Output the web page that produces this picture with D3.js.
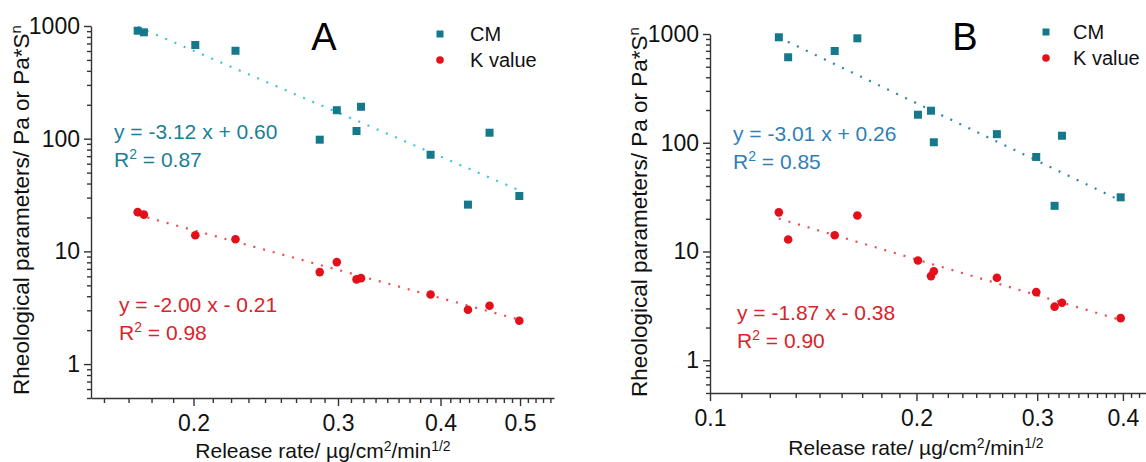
<!DOCTYPE html>
<html>
<head>
<meta charset="utf-8">
<script src="https://cdn.jsdelivr.net/npm/d3@7"></script>
<style>
    body { margin: 0; background: #fff; }
    svg { display: block; font-family: Arial, "Liberation Sans", sans-serif; }
</style>
</head>
<body>
<svg width="1146" height="462"></svg>
<script>
// panel A: release rate vs CM and K value
var rateA = [0.171, 0.174, 0.201, 0.225, 0.285, 0.299, 0.316, 0.320, 0.389, 0.432, 0.459, 0.499];
var cmA = [908, 879, 678, 603, 98, 179, 117, 192, 72, 26, 113, 31];
var kA = [22.3, 21.2, 13.9, 12.8, 6.55, 8.03, 5.64, 5.79, 4.15, 3.03, 3.29, 2.42];
var cmFitA = [-3.12, 0.60];   // slope, intercept (log-log)
var kFitA = [-2.00, -0.21];
var r2A = ['0.87', '0.98'];

// panel B
var rateB = [0.126, 0.130, 0.152, 0.164, 0.201, 0.210, 0.212, 0.262, 0.299, 0.318, 0.326, 0.397];
var cmB = [933, 611, 698, 913, 181, 197, 101, 120, 74, 26.3, 116, 31.5];
var kB = [22.9, 12.9, 14.1, 21.4, 8.27, 5.94, 6.59, 5.74, 4.23, 3.11, 3.38, 2.44];
var cmFitB = [-3.01, 0.26];
var kFitB = [-1.87, -0.38];
var r2B = ['0.85', '0.90'];

var yDomain = [0.5, 1000];
var yMajor = [1, 10, 100, 1000];
var xDomainA = [0.15, 0.55];
var xDomainB = [0.1, 0.45];
var xMajorA = [0.2, 0.3, 0.4, 0.5];
var xMajorB = [0.1, 0.2, 0.3, 0.4];
var seriesNames = ['CM', 'K value'];

var svg = d3.select('svg');

drawPanel({
    label: 'A', rate: rateA, cm: cmA, k: kA, cmFit: cmFitA, kFit: kFitA, r2: r2A,
    xDomain: xDomainA, xMajor: xMajorA,
    left: 91, right: 554, top: 26, bottom: 398,
    cmLine: '#3ec3e2', cmText: '#1a7f96',
    cmEq: [114, 139], kEq: [119, 312],
    labelPos: [324, 50], legend: [440, 470, 34],
    yTitle: [29, 210], xTitle: [323, 458]
});

drawPanel({
    label: 'B', rate: rateB, cm: cmB, k: kB, cmFit: cmFitB, kFit: kFitB, r2: r2B,
    xDomain: xDomainB, xMajor: xMajorB,
    left: 710, right: 1158, top: 34, bottom: 393,
    cmLine: '#2f86a6', cmText: '#2f7fb6',
    cmEq: [733, 141], kEq: [737, 320],
    labelPos: [965, 50], legend: [1046, 1073, 32],
    yTitle: [647, 212], xTitle: [916, 455]
});

function drawPanel(p) {
    var x = d3.scaleLog().domain(p.xDomain).range([p.left, p.right]);
    var y = d3.scaleLog().domain(yDomain).range([p.bottom, p.top]);

    var g = svg.append('g');

    // minor ticks
    var yMinor = [];
    [0.1, 1, 10, 100].forEach(function(d) {
        for (var i = 2; i <= 9; i++) {
            var v = d * i;
            if (v >= yDomain[0] && v <= yDomain[1]) yMinor.push(v);
        }
    });
    var xMinor = [];
    for (var i = 0; i < 60; i++) {
        var v = 0.1 + i * 0.1 / 9;
        if (i % 9 !== 0 && v > p.xDomain[0] && v < p.xDomain[1]) xMinor.push(v);
    }

    g.append('g')
        .attr('transform', 'translate(' + p.left + ',0)')
        .call(d3.axisLeft(y).tickValues(yMinor).tickSize(4).tickFormat(''))
        .call(function(a) { a.select('.domain').remove(); });

    g.append('g')
        .attr('transform', 'translate(0,' + p.bottom + ')')
        .call(d3.axisBottom(x).tickValues(xMinor).tickSize(5).tickFormat(''))
        .call(function(a) { a.select('.domain').remove(); });

    g.append('g')
        .attr('transform', 'translate(' + p.left + ',0)')
        .call(d3.axisLeft(y).tickValues(yMajor).tickSize(7).tickSizeOuter(0)
            .tickPadding(4).tickFormat(d3.format('d')));

    g.append('g')
        .attr('transform', 'translate(0,' + p.bottom + ')')
        .call(d3.axisBottom(x).tickValues(p.xMajor).tickSize(8).tickSizeOuter(0)
            .tickPadding(9).tickFormat(function(d) { return d; }));

    g.selectAll('.domain, .tick line')
        .attr('stroke', '#333')
        .attr('stroke-width', 1.4);
    g.selectAll('.tick text')
        .attr('font-size', 23)
        .attr('font-family', 'Arial, "Liberation Sans", sans-serif')
        .attr('fill', '#111');

    // fit lines
    var line = d3.line()
        .x(function(d) { return x(d[0]); })
        .y(function(d) { return y(d[1]); });
    var ext = d3.extent(p.rate);

    function fitLine(fit, color) {
        g.append('path')
            .datum(ext.map(function(r) { return [r, Math.pow(10, fit[1]) * Math.pow(r, fit[0])]; }))
            .attr('d', line)
            .attr('fill', 'none')
            .attr('stroke', color)
            .attr('stroke-width', 2.2)
            .attr('stroke-dasharray', '2,8');
    }
    fitLine(p.cmFit, p.cmLine);
    fitLine(p.kFit, '#f04a50');

    // markers
    g.append('g').selectAll('rect')
        .data(p.rate)
        .enter().append('rect')
        .attr('x', function(d) { return x(d) - 4; })
        .attr('y', function(d, i) { return y(p.cm[i]) - 4; })
        .attr('width', 8)
        .attr('height', 8)
        .attr('fill', '#16798b');

    g.append('g').selectAll('circle')
        .data(p.rate)
        .enter().append('circle')
        .attr('cx', function(d) { return x(d); })
        .attr('cy', function(d, i) { return y(p.k[i]); })
        .attr('r', 4.3)
        .attr('fill', '#e3101a');

    // equations
    function equation(fit, r2, pos, color) {
        var txt = 'y = ' + fit[0].toFixed(2) + ' x ' + (fit[1] < 0 ? '- ' : '+ ') + Math.abs(fit[1]).toFixed(2);
        var t = g.append('text')
            .attr('x', pos[0])
            .attr('y', pos[1])
            .attr('font-size', 21)
            .attr('fill', color);
        t.append('tspan').text(txt);
        t.append('tspan').attr('x', pos[0]).attr('dy', 28).text('R');
        t.append('tspan').attr('dy', -8).attr('font-size', 14).text('2');
        t.append('tspan').attr('dy', 8).text(' = ' + r2);
    }
    equation(p.cmFit, p.r2[0], p.cmEq, p.cmText);
    equation(p.kFit, p.r2[1], p.kEq, '#d9242a');

    // panel letter
    g.append('text')
        .attr('x', p.labelPos[0])
        .attr('y', p.labelPos[1])
        .attr('text-anchor', 'middle')
        .attr('font-size', 38)
        .text(p.label);

    // legend
    var lg = p.legend;
    g.append('rect')
        .attr('x', lg[0] - 3.5).attr('y', lg[2] - 3.5)
        .attr('width', 7).attr('height', 7)
        .attr('fill', '#16798b');
    g.append('circle')
        .attr('cx', lg[0]).attr('cy', lg[2] + 26)
        .attr('r', 3.8)
        .attr('fill', '#e3101a');
    seriesNames.forEach(function(name, i) {
        g.append('text')
            .attr('x', lg[1])
            .attr('y', lg[2] + 7 + i * 26)
            .attr('font-size', 20)
            .attr('fill', '#111')
            .text(name);
    });

    // axis titles
    var yt = g.append('text')
        .attr('transform', 'translate(' + p.yTitle[0] + ',' + p.yTitle[1] + ') rotate(-90)')
        .attr('text-anchor', 'middle')
        .attr('font-size', 22.5)
        .attr('fill', '#111');
    yt.append('tspan').text('Rheological parameters/ Pa or Pa*S');
    yt.append('tspan').attr('dy', -8).attr('font-size', 15).text('n');

    var xt = g.append('text')
        .attr('x', p.xTitle[0])
        .attr('y', p.xTitle[1])
        .attr('text-anchor', 'middle')
        .attr('font-size', 21)
        .attr('fill', '#111');
    xt.append('tspan').text('Release rate/ \u00b5g/cm');
    xt.append('tspan').attr('dy', -7).attr('font-size', 14).text('2');
    xt.append('tspan').attr('dy', 7).text('/min');
    xt.append('tspan').attr('dy', -7).attr('font-size', 14).text('1/2');
}
</script>
</body>
</html>
